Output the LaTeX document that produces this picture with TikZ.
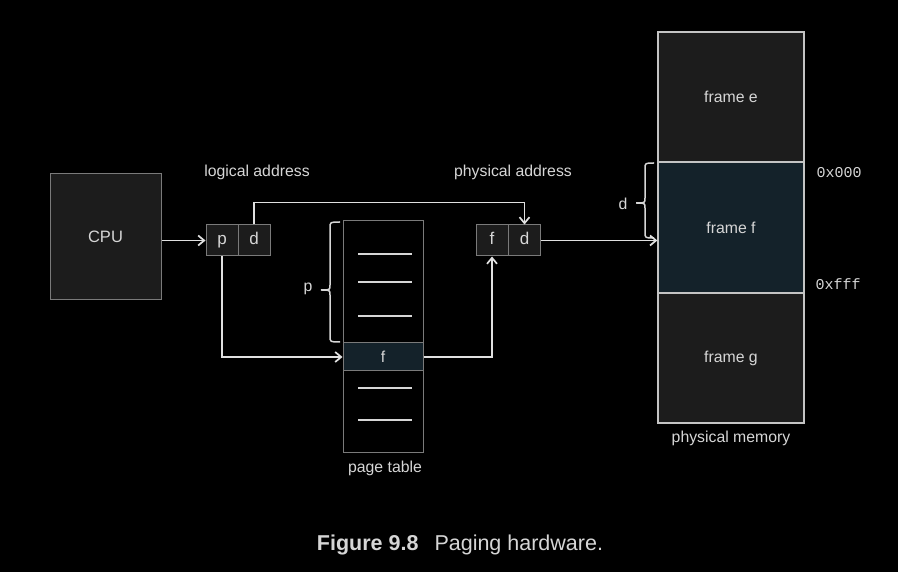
\documentclass[tikz,border=0pt]{standalone}
\usepackage{fontspec}
\setmainfont{Liberation Sans}
\setmonofont{Liberation Mono}
\usetikzlibrary{arrows.meta}
\definecolor{txt}{HTML}{D6D6D6}
\definecolor{boxfill}{HTML}{1C1C1C}
\definecolor{boxline}{HTML}{7A7A7A}
\definecolor{memline}{HTML}{C4C4C4}
\definecolor{teal}{HTML}{14222A}
\definecolor{arrowc}{HTML}{E0E0E0}
\tikzset{
  lbl/.style={text=txt, font=\fontsize{15.8}{18}\selectfont, inner sep=0pt},
  cpubox/.style={draw=boxline, fill=boxfill, line width=1pt, text=txt, font=\fontsize{16.5}{19}\selectfont, inner sep=0pt},
  cell/.style={draw=boxline, fill=boxfill, line width=1pt, text=txt, font=\fontsize{17}{19}\selectfont, minimum width=32pt, minimum height=31pt, inner sep=0pt, text height=10.5pt, text depth=1.5pt},
  tablebox/.style={draw=boxline, line width=1pt, minimum width=80pt, minimum height=231pt, inner sep=0pt},
  rowf/.style={draw=boxline, fill=teal, line width=1pt, text=txt, font=\fontsize{15.8}{18}\selectfont, minimum width=80pt, minimum height=28pt, inner sep=0pt},
  framebox/.style={draw=memline, fill=boxfill, line width=1.3pt, text=txt, font=\fontsize{15.8}{18}\selectfont, minimum width=146pt, inner sep=0pt},
  rowline/.style={draw=txt, line width=1.3pt},
  arr/.style={draw=arrowc, line width=1.7pt, -{Straight Barb[length=6pt,width=10pt]}},
  bracec/.style={draw=txt, line width=1.5pt},
  hex/.style={text=txt, font=\ttfamily\fontsize{15}{17}\selectfont, inner sep=0pt}
}
\begin{document}
\begin{tikzpicture}[x=1pt,y=-1pt]
\fill[black] (0,0) rectangle (898,572);
\useasboundingbox (0,0) rectangle (898,572);

% CPU
\node[cpubox, minimum width=111pt, minimum height=126pt] (cpu) at (105.5,237) {CPU};

% logical address
\node[cell] (lp) at (222,240.5) {p};
\node[cell] (ld) at (254,240.5) {d};
\node[lbl] (la) at (257,172) {logical address};

% physical address
\node[cell] (pf) at (492,240.5) {f};
\node[cell] (pd) at (524.5,240.5) {d};
\node[lbl] (pa) at (513,172) {physical address};

% page table
\node[tablebox] (pt) at (383,336.5) {};
\node[rowf] (fr) at (383,357) {f};
\foreach \yy in {254,282,316,388,420}
  \draw[rowline] (358,\yy) -- (412,\yy);
\node[lbl] (ptl) at (385,468) {page table};

% memory
\node[framebox, minimum height=130pt] (fe) at (731,97) {frame e};
\node[framebox, minimum height=131pt, fill=teal] (ff) at (731,227.5) {frame f};
\node[framebox, minimum height=130pt] (fg) at (731,358) {frame g};
\node[lbl] (pm) at (731,438) {physical memory};
\node[hex] (h0) at (839,173) {0x000};
\node[hex] (hf) at (838,284) {0xfff};

% braces
\draw[bracec] (340,222) .. controls (330,222) .. (330,228) -- (330,285)
  .. controls (330,290) .. (321,290) .. controls (330,290) .. (330,295)
  -- (330,336) .. controls (330,342) .. (340,342);
\node[lbl] (plbl) at (308,289) {p};
\draw[bracec] (654,163) .. controls (645,163) .. (645,169) -- (645,198)
  .. controls (645,203) .. (636,203) .. controls (645,203) .. (645,208)
  -- (645,232) .. controls (645,238) .. (654,238);
\node[lbl] (dlbl) at (623,204) {d};

% arrows
\draw[arr] (cpu.east |- lp.west) -- (lp.west);
\draw[arr] (ld.north) -- ++(0,-22) -| (pd.north);
\draw[arr] (lp.south) |- (fr.west);
\draw[arr] (fr.east) -| (pf.south);
\draw[arr] (pd.east) -- (ff.west |- pd.east);

% caption
\node[text=txt, font=\fontsize{21.5}{25}\selectfont, inner sep=0pt] (cap) at (460,545) {\textbf{Figure 9.8}\hspace{16pt}Paging hardware.};
\end{tikzpicture}
\end{document}
